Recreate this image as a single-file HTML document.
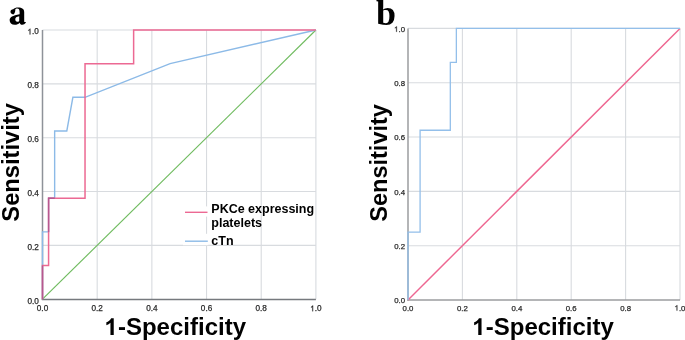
<!DOCTYPE html>
<html><head><meta charset="utf-8"><style>
html,body{margin:0;padding:0;background:#fff;}
body{width:685px;height:340px;overflow:hidden;}
svg{display:block;will-change:transform;opacity:0.999;}
.t{font-family:"Liberation Sans",sans-serif;fill:#2a2a2a;stroke:#2a2a2a;stroke-width:0.25px;}
.lg{font-family:"Liberation Sans",sans-serif;font-weight:bold;font-size:12.5px;fill:#000;}
.ttl{font-family:"Liberation Sans",sans-serif;font-weight:bold;font-size:24px;fill:#000;}
.pl{font-family:"Liberation Serif",serif;font-weight:bold;font-size:36px;fill:#000;}
.one{fill:none;stroke:none;}
</style></head><body>
<svg width="685" height="340" viewBox="0 0 685 340">
<line x1="97.18" y1="30.00" x2="97.18" y2="299.20" stroke="#d8dbdf" stroke-width="1.1"/>
<line x1="42.50" y1="245.36" x2="315.90" y2="245.36" stroke="#d8dbdf" stroke-width="1.1"/>
<line x1="151.86" y1="30.00" x2="151.86" y2="299.20" stroke="#d8dbdf" stroke-width="1.1"/>
<line x1="42.50" y1="191.52" x2="315.90" y2="191.52" stroke="#d8dbdf" stroke-width="1.1"/>
<line x1="206.54" y1="30.00" x2="206.54" y2="299.20" stroke="#d8dbdf" stroke-width="1.1"/>
<line x1="42.50" y1="137.68" x2="315.90" y2="137.68" stroke="#d8dbdf" stroke-width="1.1"/>
<line x1="261.22" y1="30.00" x2="261.22" y2="299.20" stroke="#d8dbdf" stroke-width="1.1"/>
<line x1="42.50" y1="83.84" x2="315.90" y2="83.84" stroke="#d8dbdf" stroke-width="1.1"/>
<line x1="315.90" y1="30.00" x2="315.90" y2="299.20" stroke="#d8dbdf" stroke-width="1.1"/>
<line x1="42.50" y1="30.00" x2="315.90" y2="30.00" stroke="#d8dbdf" stroke-width="1.1"/>
<line x1="42.50" y1="30.00" x2="42.50" y2="299.90" stroke="#8e9299" stroke-width="1.5"/>
<line x1="41.80" y1="299.55" x2="315.90" y2="299.55" stroke="#76797e" stroke-width="1.5"/>
<path d="M42.50,299.20 L315.90,30.00" stroke="#6fbb5f" stroke-width="1.15" fill="none"/>
<path d="M42.50,299.20 L42.50,231.90 L48.58,231.90 L48.58,198.25 L54.65,198.25 L54.65,130.95 L66.80,130.95 L72.88,97.30 L85.03,97.30 L170.09,63.65 L315.90,30.00" stroke="#8cbae7" stroke-width="1.4" fill="none"/>
<path d="M42.50,299.20 L42.50,265.55 L48.58,265.55 L48.58,198.25 L85.03,198.25 L85.03,63.65 L133.63,63.65 L133.63,30.00 L315.90,30.00" stroke="#ec6993" stroke-width="1.5" fill="none"/>
<path d="M42.50,299.20 L42.50,265.55" stroke="#b8578f" stroke-width="1.35" fill="none"/>
<path d="M48.58,231.90 L48.58,198.25 L54.65,198.25" stroke="#b8578f" stroke-width="1.35" fill="none"/>
<text x="42.50" y="311.30" class="t" text-anchor="middle" font-size="8.2">0.0</text>
<text x="38.90" y="303.60" class="t" text-anchor="end" font-size="8.2">0.0</text>
<text x="97.18" y="311.30" class="t" text-anchor="middle" font-size="8.2">0.2</text>
<text x="38.90" y="249.76" class="t" text-anchor="end" font-size="8.2">0.2</text>
<text x="151.86" y="311.30" class="t" text-anchor="middle" font-size="8.2">0.4</text>
<text x="38.90" y="195.92" class="t" text-anchor="end" font-size="8.2">0.4</text>
<text x="206.54" y="311.30" class="t" text-anchor="middle" font-size="8.2">0.6</text>
<text x="38.90" y="142.08" class="t" text-anchor="end" font-size="8.2">0.6</text>
<text x="261.22" y="311.30" class="t" text-anchor="middle" font-size="8.2">0.8</text>
<text x="38.90" y="88.24" class="t" text-anchor="end" font-size="8.2">0.8</text>
<text x="315.90" y="311.30" class="t" text-anchor="middle" font-size="8.2"><tspan class="one">1</tspan>.0</text>
<text x="38.90" y="34.40" class="t" text-anchor="end" font-size="8.2"><tspan class="one">1</tspan>.0</text>
<line x1="462.40" y1="28.40" x2="462.40" y2="300.00" stroke="#d8dbdf" stroke-width="1.1"/>
<line x1="408.00" y1="245.68" x2="680.00" y2="245.68" stroke="#d8dbdf" stroke-width="1.1"/>
<line x1="516.80" y1="28.40" x2="516.80" y2="300.00" stroke="#d8dbdf" stroke-width="1.1"/>
<line x1="408.00" y1="191.36" x2="680.00" y2="191.36" stroke="#d8dbdf" stroke-width="1.1"/>
<line x1="571.20" y1="28.40" x2="571.20" y2="300.00" stroke="#d8dbdf" stroke-width="1.1"/>
<line x1="408.00" y1="137.04" x2="680.00" y2="137.04" stroke="#d8dbdf" stroke-width="1.1"/>
<line x1="625.60" y1="28.40" x2="625.60" y2="300.00" stroke="#d8dbdf" stroke-width="1.1"/>
<line x1="408.00" y1="82.72" x2="680.00" y2="82.72" stroke="#d8dbdf" stroke-width="1.1"/>
<line x1="680.00" y1="28.40" x2="680.00" y2="300.00" stroke="#d8dbdf" stroke-width="1.1"/>
<line x1="408.00" y1="28.40" x2="680.00" y2="28.40" stroke="#d8dbdf" stroke-width="1.1"/>
<line x1="408.00" y1="28.40" x2="408.00" y2="300.70" stroke="#9b9c9f" stroke-width="1.5"/>
<line x1="407.30" y1="300.00" x2="680.00" y2="300.00" stroke="#9b9c9f" stroke-width="1.5"/>
<path d="M408.00,300.00 L680.00,28.40" stroke="#ee6791" stroke-width="1.45" fill="none"/>
<path d="M408.00,300.00 L408.00,232.10 L420.09,232.10 L420.09,130.25 L450.31,130.25 L450.31,62.35 L456.36,62.35 L456.36,28.40 L680.00,28.40" stroke="#93bfea" stroke-width="1.3" fill="none"/>
<text x="408.00" y="310.60" class="t" text-anchor="middle" font-size="7.8">0.0</text>
<text x="405.00" y="303.40" class="t" text-anchor="end" font-size="7.8">0.0</text>
<text x="462.40" y="310.60" class="t" text-anchor="middle" font-size="7.8">0.2</text>
<text x="405.00" y="249.08" class="t" text-anchor="end" font-size="7.8">0.2</text>
<text x="516.80" y="310.60" class="t" text-anchor="middle" font-size="7.8">0.4</text>
<text x="405.00" y="194.76" class="t" text-anchor="end" font-size="7.8">0.4</text>
<text x="571.20" y="310.60" class="t" text-anchor="middle" font-size="7.8">0.6</text>
<text x="405.00" y="140.44" class="t" text-anchor="end" font-size="7.8">0.6</text>
<text x="625.60" y="310.60" class="t" text-anchor="middle" font-size="7.8">0.8</text>
<text x="405.00" y="86.12" class="t" text-anchor="end" font-size="7.8">0.8</text>
<text x="680.00" y="310.60" class="t" text-anchor="middle" font-size="7.8"><tspan class="one">1</tspan>.0</text>
<text x="405.00" y="31.80" class="t" text-anchor="end" font-size="7.8"><tspan class="one">1</tspan>.0</text>
<rect x="183" y="206.4" width="25.3" height="10.2" fill="#fff"/>
<rect x="183" y="233.8" width="25.3" height="11.4" fill="#fff"/>
<line x1="185" y1="212.3" x2="207.5" y2="212.3" stroke="#ec6993" stroke-width="1.4"/>
<line x1="185" y1="241.2" x2="207.8" y2="241.2" stroke="#8cbae7" stroke-width="1.4"/>
<text x="211.30" y="213.20" class="lg">PKCe expressing</text>
<text x="211.30" y="227.20" class="lg">platelets</text>
<text x="211.30" y="244.50" class="lg">cTn</text>
<text x="175.30" y="334.90" class="ttl" text-anchor="middle"><tspan class="one">1</tspan>-Specificity</text>
<text x="543.10" y="334.90" class="ttl" text-anchor="middle"><tspan class="one">1</tspan>-Specificity</text>
<text transform="translate(19.4,162.4) rotate(-90)" class="ttl" style="font-size:23.7px" text-anchor="middle">Sensitivity</text>
<text transform="translate(387.4,162.9) rotate(-90)" class="ttl" style="font-size:23.5px" text-anchor="middle">Sensitivity</text>
<path fill-rule="evenodd" fill="#000" transform="translate(8.5,24.4) scale(0.017578,-0.017578)" d="M265 860C330 925 430 961 540 961C780 961 893 880 893 690L893 170C893 130 920 120 984 140L984 90C930 20 860 -15 790 -15C700 -15 650 30 640 100C560 20 470 -20 360 -20C170 -20 66 90 66 240C66 420 230 500 632 580L632 700C632 860 580 910 500 910C440 910 400 890 390 860C392 790 365 570 260 570C180 570 112 635 112 715C112 790 175 860 265 860ZM610 470L610 200C580 170 540 150 500 150C430 150 385 200 385 290C385 390 450 440 610 470Z"/>
<text x="376" y="24.6" class="pl">b</text>
<path d="M720 0H540V1120Q475 1060 380 1005Q285 950 200 920V1090Q350 1160 450 1250Q550 1340 600 1420H720Z" transform="translate(310.20,311.30) scale(0.004004,-0.004004)" fill="#2a2a2a" stroke="#2a2a2a" stroke-width="62.4"/>
<path d="M720 0H540V1120Q475 1060 380 1005Q285 950 200 920V1090Q350 1160 450 1250Q550 1340 600 1420H720Z" transform="translate(27.49,34.40) scale(0.004004,-0.004004)" fill="#2a2a2a" stroke="#2a2a2a" stroke-width="62.4"/>
<path d="M720 0H540V1120Q475 1060 380 1005Q285 950 200 920V1090Q350 1160 450 1250Q550 1340 600 1420H720Z" transform="translate(674.57,310.60) scale(0.003809,-0.003809)" fill="#2a2a2a" stroke="#2a2a2a" stroke-width="65.6"/>
<path d="M720 0H540V1120Q475 1060 380 1005Q285 950 200 920V1090Q350 1160 450 1250Q550 1340 600 1420H720Z" transform="translate(394.14,31.80) scale(0.003809,-0.003809)" fill="#2a2a2a" stroke="#2a2a2a" stroke-width="65.6"/>
<path d="M780 0H499V1040Q360 900 150 830V1075Q265 1112 390 1210Q515 1308 560 1420H780Z" transform="translate(104.60,334.90) scale(0.011719,-0.011719)" fill="#000"/>
<path d="M780 0H499V1040Q360 900 150 830V1075Q265 1112 390 1210Q515 1308 560 1420H780Z" transform="translate(472.40,334.90) scale(0.011719,-0.011719)" fill="#000"/>
</svg>
</body></html>
